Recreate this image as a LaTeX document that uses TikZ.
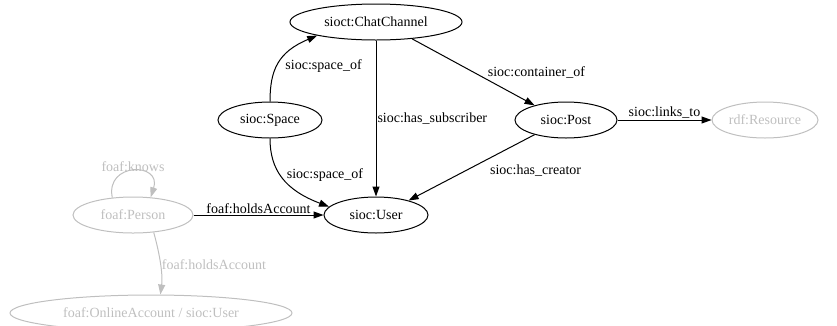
\documentclass[tikz,border=0pt]{standalone}
\usepackage{fontspec}
\setmainfont{Liberation Serif}
\usetikzlibrary{shapes.geometric, arrows.meta, positioning, calc}

\tikzset{
  cls/.style={draw,ellipse,line width=1pt,inner sep=0pt,minimum height=36pt,font=\fontsize{14}{16}\selectfont},
  ext/.style={cls,draw=lightgray,text=lightgray},
  rel/.style={-{Triangle[length=10pt,width=7pt]},line width=1pt},
  extrel/.style={rel,draw=lightgray},
  lbl/.style={font=\fontsize{14}{16}\selectfont,inner sep=1pt},
}

\begin{document}
\begin{tikzpicture}[x=1pt,y=-1pt]
    \useasboundingbox (0,0) rectangle (837,325);
    \node[cls,minimum width=172pt] (chat) at (376,22) {sioct:ChatChannel};
    \node[cls,minimum width=104pt] (space) at (270,120) {sioc:Space};
    \node[cls,minimum width=102pt] (post) at (566,120) {sioc:Post};
    \node[ext,minimum width=106pt] (res) at (765,120) {rdf:Resource};
    \node[cls,minimum width=104pt] (user) at (376,215) {sioc:User};
    \node[ext,minimum width=120pt] (person) at (133,215) {foaf:Person};
    \node[ext,minimum width=282pt] (online) at (151,313) {foaf:OnlineAccount / sioc:User};

    \draw[rel] (space.north) .. controls (270,70) and (278,52) .. (chat.193)
        node[lbl,right,pos=0.45,xshift=7pt] {sioc:space\_of};
    \draw[rel] (space.south) .. controls (270,170) and (285,190) .. (user.170)
        node[lbl,right,pos=0.45,xshift=5pt] {sioc:space\_of};
    \draw[rel] (chat.south) -- (user.north)
        node[lbl,right,pos=0.5] {sioc:has\_subscriber};
    \draw[rel] (chat.335) -- (post.155)
        node[lbl,right,pos=0.5,xshift=13pt] {sioc:container\_of};
    \draw[rel] (post.205) -- (user.24)
        node[lbl,right,pos=0.5,xshift=17pt,yshift=-3pt] {sioc:has\_creator};
    \draw[rel] (post.east) -- (res.west)
        node[lbl,above,pos=0.5] {sioc:links\_to};
    \draw[rel] (person.east) -- (user.west)
        node[lbl,above,pos=0.5] {foaf:holdsAccount};
    \draw[extrel] (person.140) .. controls (105,162) and (162,162) .. (person.45)
        node[lbl,above,pos=0.5,text=lightgray,yshift=-2pt] {foaf:knows};
    \draw[extrel] (person.320) .. controls (160,255) and (163,275) .. (online.63)
        node[lbl,right,pos=0.5,text=lightgray] {foaf:holdsAccount};
\end{tikzpicture}
\end{document}
